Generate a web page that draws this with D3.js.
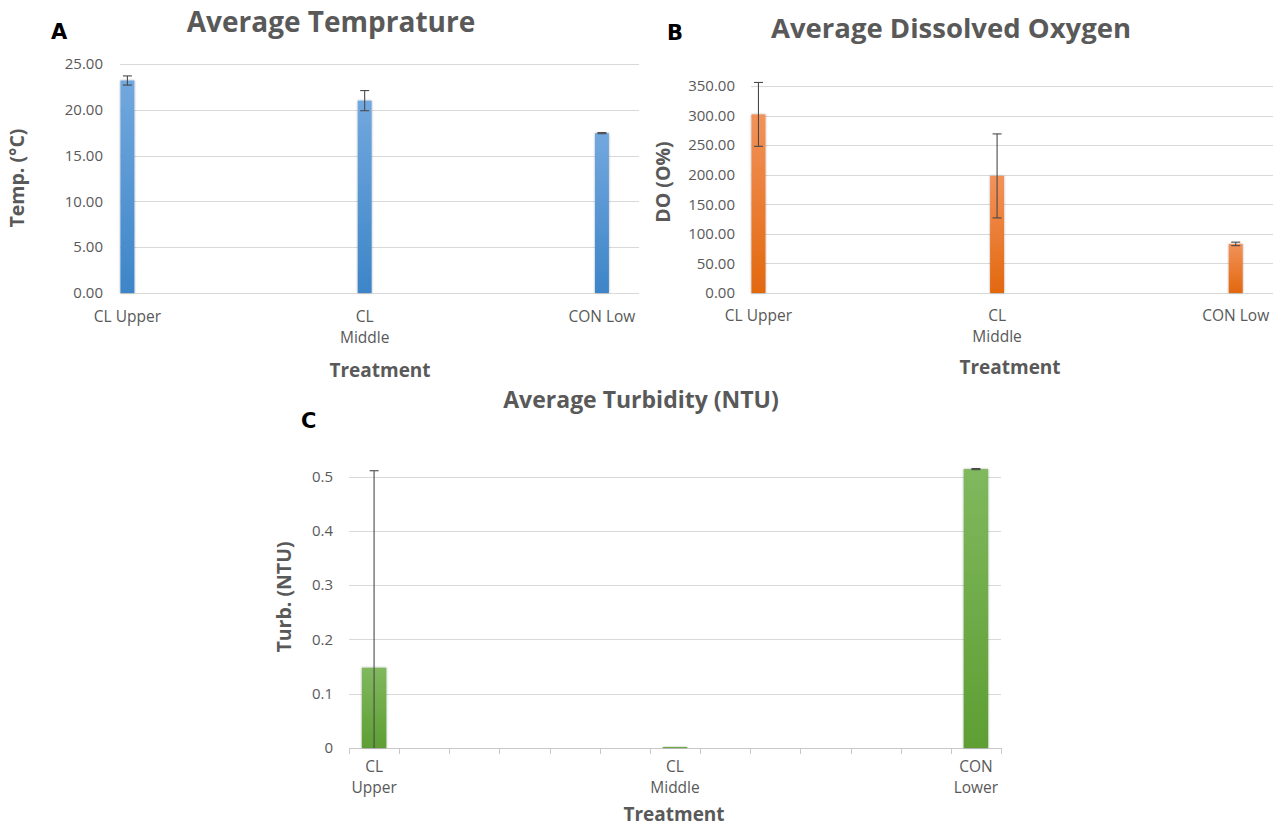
<!DOCTYPE html>
<html>
<head>
<meta charset="utf-8">
<script src="https://cdn.jsdelivr.net/npm/d3@7"></script>
<style>
  body { margin: 0; background: #fff; }
  text { font-family: "Open Sans", Lato, sans-serif; }
</style>
</head>
<body>
<div id="chart"></div>
<script>
// treatments, as they are labelled under each chart
var treatAB = ["CL Upper", "CL\nMiddle", "CON Low"];
var treatC = ["CL\nUpper", "CL\nMiddle", "CON\nLower"];

// the excel charts have empty category rows, the three treatments sit in these slots
var slotsAB = 35, slotIdxAB = [0, 16, 32];
var slotsC = 13, slotIdxC = [0, 6, 12];

// A - temperature
var tempMean = [23.2, 21.0, 17.45];
var tempErr = [0.5, 1.1, 0.06];
var tempTicks = [0, 5, 10, 15, 20, 25];

// B - dissolved oxygen
var doMean = [302, 198, 83];
var doErr = [54, 71, 3];
var doTicks = [0, 50, 100, 150, 200, 250, 300, 350];

// C - turbidity
var turbMean = [0.148, 0.002, 0.514];
var turbErr = [0.363, 0, 0.001];
var turbTicks = [0, 0.1, 0.2, 0.3, 0.4, 0.5];

var grey = "#595959";

var svg = d3.select("#chart").append("svg")
  .attr("width", 1279)
  .attr("height", 827);

var defs = svg.append("defs");
function grad(id, top, bottom) {
  var g = defs.append("linearGradient").attr("id", id)
    .attr("x1", 0).attr("y1", 0).attr("x2", 0).attr("y2", 1);
  g.append("stop").attr("offset", "0%").attr("stop-color", top);
  g.append("stop").attr("offset", "100%").attr("stop-color", bottom);
}
grad("gBlue", "#72a8de", "#3d85c8");
grad("gOrange", "#f2925a", "#e2680f");
grad("gGreen", "#80b85e", "#5e9e33");
var sh = defs.append("filter").attr("id", "shadow")
  .attr("x", "-50%").attr("y", "-5%").attr("width", "200%").attr("height", "110%");
sh.append("feDropShadow").attr("dx", 0).attr("dy", 0)
  .attr("stdDeviation", 1.2).attr("flood-color", "#000").attr("flood-opacity", 0.35);

function panel(o) {
  var g = svg.append("g");
  var y = d3.scaleLinear().domain(o.domain).range([o.bottom, o.top]);
  var x = d3.scaleBand().domain(d3.range(o.slots)).range([o.left, o.right]);

  // gridlines
  g.selectAll(".grid").data(o.ticks).enter().append("line")
    .attr("x1", o.left).attr("x2", o.right)
    .attr("y1", function (d) { return Math.round(y(d)) + 0.5; })
    .attr("y2", function (d) { return Math.round(y(d)) + 0.5; })
    .attr("stroke", function (d) { return d === 0 ? o.axisColor : "#d9d9d9"; })
    .attr("stroke-width", 1);

  // y tick labels
  g.selectAll(".ylab").data(o.ticks).enter().append("text")
    .attr("x", o.labelX)
    .attr("y", function (d) { return y(d); })
    .attr("dy", "0.35em")
    .attr("text-anchor", "end")
    .attr("font-size", 15)
    .attr("fill", grey)
    .text(o.fmt);

  if (o.xTicks) {
    g.selectAll(".xt").data(d3.range(o.slots + 1)).enter().append("line")
      .attr("x1", function (d) { return Math.round(o.left + d * x.step()) + 0.5; })
      .attr("x2", function (d) { return Math.round(o.left + d * x.step()) + 0.5; })
      .attr("y1", o.bottom).attr("y2", o.bottom + 6)
      .attr("stroke", o.axisColor);
  }

  var rows = o.cats.map(function (c, i) {
    return { cat: c, slot: o.slotIdx[i], v: o.mean[i], e: o.err[i] };
  });
  var bw = x.bandwidth() * o.barFrac;

  g.selectAll(".bar").data(rows).enter().append("rect")
    .attr("x", function (d) { return x(d.slot) + (x.bandwidth() - bw) / 2; })
    .attr("y", function (d) { return y(d.v); })
    .attr("width", bw)
    .attr("height", function (d) { return y(0) - y(d.v); })
    .attr("fill", "url(#" + o.fill + ")")
    .attr("filter", "url(#shadow)");

  // error bars (none drawn when the error is zero)
  var cx = function (d) { return x(d.slot) + x.bandwidth() / 2; };
  var eb = g.selectAll(".err").data(rows.filter(function (d) { return d.e > 0; }))
    .enter().append("g")
    .attr("stroke", "#4a4a4a").attr("stroke-width", 1.1);
  eb.append("line")
    .attr("x1", cx).attr("x2", cx)
    .attr("y1", function (d) { return y(d.v + d.e); })
    .attr("y2", function (d) { return y(Math.max(0, d.v - d.e)); });
  eb.append("line")
    .attr("x1", function (d) { return cx(d) - 4.5; })
    .attr("x2", function (d) { return cx(d) + 4.5; })
    .attr("y1", function (d) { return y(d.v + d.e); })
    .attr("y2", function (d) { return y(d.v + d.e); });
  eb.filter(function (d) { return d.v - d.e > 0; }).append("line")
    .attr("x1", function (d) { return cx(d) - 4.5; })
    .attr("x2", function (d) { return cx(d) + 4.5; })
    .attr("y1", function (d) { return y(d.v - d.e); })
    .attr("y2", function (d) { return y(d.v - d.e); });

  // category labels, one text per line
  rows.forEach(function (d) {
    d.cat.split("\n").forEach(function (line, k) {
      g.append("text")
        .attr("x", cx(d))
        .attr("y", o.catY + k * o.catLine)
        .attr("dy", "0.35em")
        .attr("text-anchor", "middle")
        .attr("font-size", 15.5)
        .attr("fill", grey)
        .text(line);
    });
  });

  // titles
  g.append("text")
    .attr("x", o.titleX).attr("y", o.titleY)
    .attr("text-anchor", "middle")
    .attr("font-size", o.titleSize)
    .attr("font-weight", "bold")
    .attr("fill", grey)
    .text(o.title);

  g.append("text")
    .attr("x", o.letterX).attr("y", o.letterY)
    .style("font-family", "'DejaVu Sans', sans-serif")
    .attr("font-size", 21)
    .attr("font-weight", "bold")
    .attr("fill", "#000")
    .text(o.letter);

  g.append("text")
    .attr("transform", "translate(" + o.yTitleX + "," + o.yTitleY + ") rotate(-90)")
    .attr("text-anchor", "middle")
    .attr("dy", "0.35em")
    .attr("font-size", 19.5)
    .attr("font-weight", "bold")
    .attr("fill", grey)
    .text(o.yTitle);

  g.append("text")
    .attr("x", o.xTitleX).attr("y", o.xTitleY)
    .attr("dy", "0.35em")
    .attr("text-anchor", "middle")
    .attr("font-size", 19)
    .attr("font-weight", "bold")
    .attr("fill", grey)
    .text("Treatment");
}

var f2 = d3.format(".2f");

panel({
  cats: treatAB, slots: slotsAB, slotIdx: slotIdxAB,
  mean: tempMean, err: tempErr, ticks: tempTicks, domain: [0, 25],
  fmt: f2, left: 120, right: 639, top: 64, bottom: 293, labelX: 103,
  barFrac: 0.94, fill: "gBlue", axisColor: "#d9d9d9",
  catY: 317, catLine: 21,
  title: "Average Temprature", titleX: 331, titleY: 32, titleSize: 28,
  letter: "A", letterX: 51, letterY: 39,
  yTitle: "Temp. (°C)", yTitleX: 17, yTitleY: 178,
  xTitleX: 380, xTitleY: 370
});

panel({
  cats: treatAB, slots: slotsAB, slotIdx: slotIdxAB,
  mean: doMean, err: doErr, ticks: doTicks, domain: [0, 350],
  fmt: f2, left: 751, right: 1273, top: 86, bottom: 293, labelX: 735,
  barFrac: 0.94, fill: "gOrange", axisColor: "#d9d9d9",
  catY: 316, catLine: 21,
  title: "Average Dissolved Oxygen", titleX: 951, titleY: 38, titleSize: 27.5,
  letter: "B", letterX: 667, letterY: 40,
  yTitle: "DO (O%)", yTitleX: 663, yTitleY: 182,
  xTitleX: 1010, xTitleY: 367
});

panel({
  cats: treatC, slots: slotsC, slotIdx: slotIdxC,
  mean: turbMean, err: turbErr, ticks: turbTicks, domain: [0, 0.5],
  fmt: function (d) { return d === 0 ? "0" : d3.format(".1f")(d); },
  left: 349, right: 1001, top: 476.7, bottom: 748, labelX: 333,
  barFrac: 0.49, fill: "gGreen", axisColor: "#c8c8c8", xTicks: true,
  catY: 767, catLine: 21,
  title: "Average Turbidity (NTU)", titleX: 641, titleY: 408, titleSize: 23,
  letter: "C", letterX: 301, letterY: 428,
  yTitle: "Turb. (NTU)", yTitleX: 284, yTitleY: 597,
  xTitleX: 674, xTitleY: 814
});
</script>
</body>
</html>
